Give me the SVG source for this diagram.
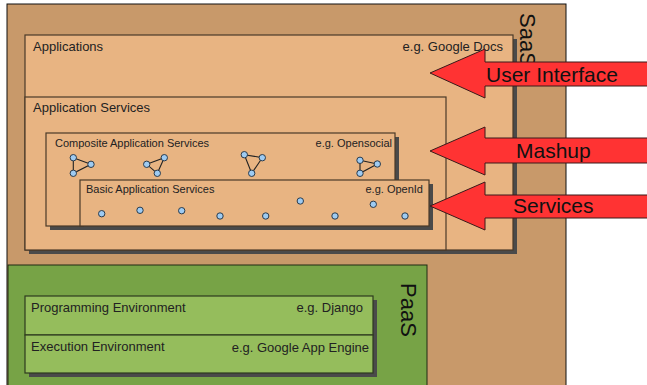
<svg xmlns="http://www.w3.org/2000/svg" width="647" height="385" viewBox="0 0 647 385">
  <style>
    .lbl { font-family: "Liberation Sans", Arial, sans-serif; font-size: 13px; fill: #222; }
    .sm { font-family: "Liberation Sans", Arial, sans-serif; font-size: 11px; fill: #222; }
    .big { font-family: "Liberation Sans", Arial, sans-serif; font-size: 21px; fill: #111; }
    .layer { font-family: "Liberation Sans", Arial, sans-serif; font-size: 22px; fill: #111; }
    .tan { fill: #E8B482; stroke: #4a3a28; stroke-width: 1.2; }
    .grn { fill: #95BD5C; stroke: #2e3a1e; stroke-width: 1.2; }
    .shadow { fill: #4a4a4a; }
    .svc { fill: #9ECBF2; stroke: #2a3a4a; stroke-width: 1; }
    .link { stroke: #222; stroke-width: 1.1; fill: none; }
    .arrow { fill: #FF3333; stroke: #3a1a1a; stroke-width: 1; }
  </style>

  <rect width="647" height="385" fill="#ffffff"/>

  <!-- SaaS layer -->
  <g id="saas">
    <rect x="7" y="4" width="559" height="400" fill="#C8996A" stroke="#111" stroke-width="1"/>
    <text class="layer" transform="translate(520,13) rotate(90)">SaaS</text>
  </g>

  <!-- Applications -->
  <g id="applications">
    <rect class="shadow" x="29" y="39" width="488" height="215"/>
    <rect class="tan" x="25" y="35" width="488" height="215"/>
    <text class="lbl" x="33" y="51">Applications</text>
    <text class="lbl" x="503" y="51" text-anchor="end">e.g. Google Docs</text>
  </g>

  <!-- Application Services -->
  <g id="application-services">
    <rect class="tan" x="25" y="97" width="421" height="153"/>
    <text class="lbl" x="33" y="112">Application Services</text>
  </g>

  <!-- Composite Application Services -->
  <g id="composite-services">
    <rect class="shadow" x="50" y="137" width="349" height="93"/>
    <rect class="tan" x="46" y="133" width="349" height="93"/>
    <text class="sm" x="55" y="147">Composite Application Services</text>
    <text class="sm" x="392" y="147" text-anchor="end">e.g. Opensocial</text>
  </g>

  <!-- Basic Application Services -->
  <g id="basic-services">
    <rect class="shadow" x="84" y="184" width="349" height="46"/>
    <rect class="tan" x="80" y="180" width="349" height="46"/>
    <text class="sm" x="86" y="193">Basic Application Services</text>
    <text class="sm" x="423" y="193" text-anchor="end">e.g. OpenId</text>
    <g id="basic-dots">
      <circle class="svc" cx="101.7" cy="213.7" r="3.2"/>
      <circle class="svc" cx="140" cy="210.3" r="3.2"/>
      <circle class="svc" cx="181.7" cy="210.7" r="3.2"/>
      <circle class="svc" cx="220" cy="216" r="3.2"/>
      <circle class="svc" cx="265.7" cy="216" r="3.2"/>
      <circle class="svc" cx="300.3" cy="201" r="3.2"/>
      <circle class="svc" cx="335" cy="216" r="3.2"/>
      <circle class="svc" cx="373.3" cy="204.3" r="3.2"/>
      <circle class="svc" cx="405" cy="216" r="3.2"/>
    </g>
  </g>

  <!-- composite service clusters: links -->
  <g id="connectors">
    <polygon class="link" points="73.3,157.7 91,164.3 73.3,173.3"/>
    <polygon class="link" points="146.7,164.3 164.3,157.7 157.3,173.3"/>
    <polygon class="link" points="244.3,154.7 262.3,157.7 251.7,173.3"/>
    <polyline class="link" points="360,160.3 360,173.3 377.3,164"/>
    <line class="link" x1="360" y1="160.3" x2="377.3" y2="164"/>
  </g>

  <!-- composite service clusters: nodes -->
  <g id="composite-dots">
    <circle class="svc" cx="73.3" cy="157.7" r="3.2"/>
    <circle class="svc" cx="91" cy="164.3" r="3.2"/>
    <circle class="svc" cx="73.3" cy="173.3" r="3.2"/>
    <circle class="svc" cx="146.7" cy="164.3" r="3.2"/>
    <circle class="svc" cx="164.3" cy="157.7" r="3.2"/>
    <circle class="svc" cx="157.3" cy="173.3" r="3.2"/>
    <circle class="svc" cx="244.3" cy="154.7" r="3.2"/>
    <circle class="svc" cx="262.3" cy="157.7" r="3.2"/>
    <circle class="svc" cx="251.7" cy="173.3" r="3.2"/>
    <circle class="svc" cx="360" cy="160.3" r="3.2"/>
    <circle class="svc" cx="377.3" cy="164" r="3.2"/>
    <circle class="svc" cx="360" cy="173.3" r="3.2"/>
  </g>

  <!-- PaaS layer -->
  <g id="paas">
    <rect x="8" y="265" width="419" height="130" fill="#77A346" stroke="#1e2a12" stroke-width="1"/>
    <text class="layer" transform="translate(401,283) rotate(90)">PaaS</text>
  </g>

  <g id="programming-environment">
    <rect class="shadow" x="29" y="300" width="348" height="77"/>
    <rect class="grn" x="25" y="296" width="348" height="39"/>
    <text class="lbl" x="31" y="312">Programming Environment</text>
    <text class="lbl" x="363" y="312" text-anchor="end">e.g. Django</text>
  </g>

  <g id="execution-environment">
    <rect class="grn" x="25" y="335" width="348" height="38"/>
    <text class="lbl" x="31" y="351">Execution Environment</text>
    <text class="lbl" x="369" y="352" text-anchor="end">e.g. Google App Engine</text>
  </g>

  <!-- access arrows -->
  <g id="arrows">
    <g id="user-interface">
      <polygon class="arrow" points="430,73 485,49 485,62 660,62 660,86 485,86 485,98"/>
      <text class="big" x="486" y="82">User Interface</text>
    </g>
    <g id="mashup">
      <polygon class="arrow" points="430,151 485,127 485,138 660,138 660,163 485,163 485,175"/>
      <text class="big" x="516" y="158">Mashup</text>
    </g>
    <g id="services">
      <polygon class="arrow" points="430,206 485,182 485,195 660,195 660,218 485,218 485,230"/>
      <text class="big" x="513" y="213">Services</text>
    </g>
  </g>
</svg>
